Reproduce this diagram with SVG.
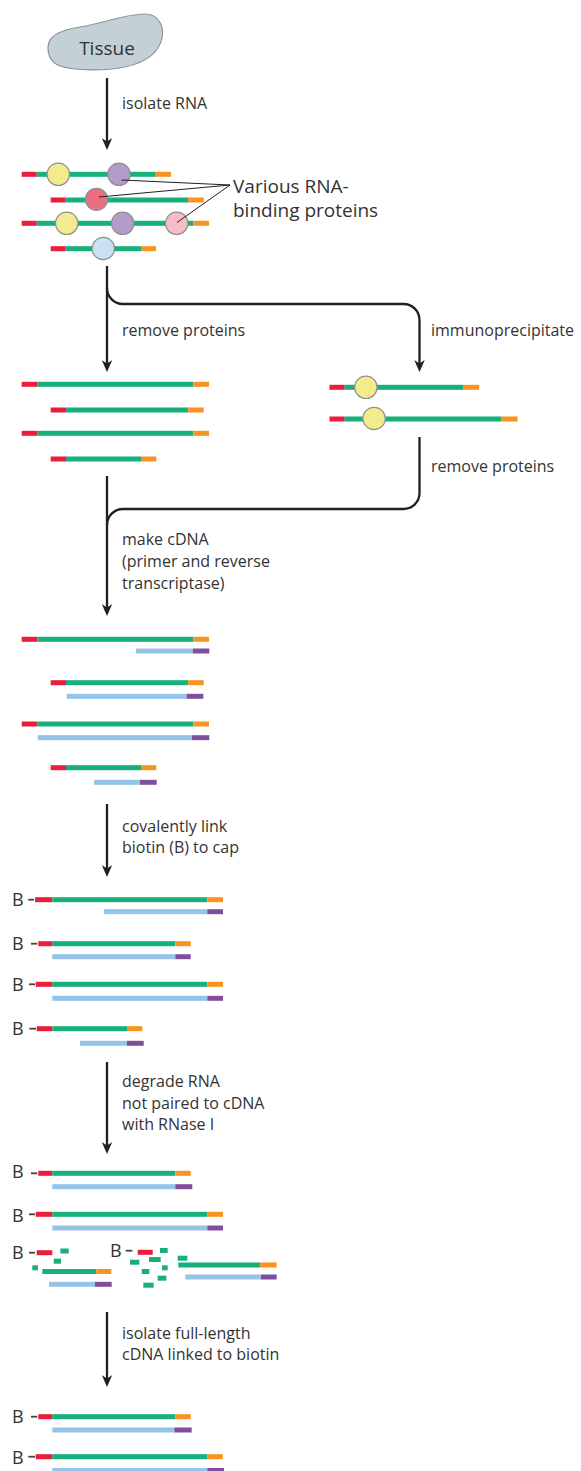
<svg xmlns="http://www.w3.org/2000/svg" width="581" height="1471" viewBox="0 0 581 1471">
<style>
text{font-family:"Open Sans","Liberation Sans",sans-serif;fill:#333;}
.lbl{font-size:16px;}
.b{font-size:18px;}
.r{fill:#ec1c3c;}
.g{fill:#17b07b;}
.o{fill:#f7931e;}
.lb{fill:#95c4e8;}
.pu{fill:#7f4f9e;}
.cy{fill:#f3ec8e;stroke:#8f8f8f;stroke-width:1.2;}
.cp{fill:#b39bcb;stroke:#8f8f8f;stroke-width:1.2;}
.cr{fill:#eb6f80;stroke:#8f8f8f;stroke-width:1.2;}
.ck{fill:#f6bdc7;stroke:#8f8f8f;stroke-width:1.2;}
.cb{fill:#c9e1f3;stroke:#8f8f8f;stroke-width:1.2;}
.arr{fill:none;stroke:#231f20;stroke-width:2.3;}
.dash{stroke:#444;stroke-width:1.8;}
.call{stroke:#231f20;stroke-width:1;fill:none;}
</style>
<defs>
<marker id="ah" viewBox="0 0 12 10.5" refX="8" refY="5.25" markerWidth="12" markerHeight="10.5" markerUnits="userSpaceOnUse" orient="auto">
<path d="M0,0 L12,5.25 L0,10.5 L3.5,5.25 Z" fill="#231f20"/>
</marker>
</defs>

<g id="tissue">
<path d="M48,47 C48,36 60,30 80,27 C105,23 125,14 145,14 C160,14 164,28 162,38 C159,52 148,62 125,67 C105,71 75,71 60,66 C52,63 48,56 48,47 Z" fill="#c3d0d6" stroke="#8a9499" stroke-width="1.2"/>
<text x="107" y="55" font-size="19" text-anchor="middle">Tissue</text>
</g>

<g id="connectors">
<path class="arr" d="M107,78 L107,146" marker-end="url(#ah)"/>
<path class="arr" d="M107,266 L107,368" marker-end="url(#ah)"/>
<path class="arr" d="M107,288 A16,16 0 0 0 123,304 L403.5,304 A16,16 0 0 1 419.5,320 L419.5,368" marker-end="url(#ah)"/>
<path class="arr" d="M419.5,437 L419.5,493 A16,16 0 0 1 403.5,509 L123,509 A16,16 0 0 0 107,525"/>
<path class="arr" d="M107,476 L107,612" marker-end="url(#ah)"/>
<path class="arr" d="M107,804 L107,873" marker-end="url(#ah)"/>
<path class="arr" d="M107,1062 L107,1150" marker-end="url(#ah)"/>
<path class="arr" d="M107,1312 L107,1383" marker-end="url(#ah)"/>
</g>

<g id="labels">
<text class="lbl" x="122" y="109">isolate RNA</text>
<text class="lbl" x="122" y="336">remove proteins</text>
<text class="lbl" x="431" y="336">immunoprecipitate</text>
<text class="lbl" x="431" y="472">remove proteins</text>
<text class="lbl" x="122" y="545">make cDNA</text>
<text class="lbl" x="122" y="567">(primer and reverse</text>
<text class="lbl" x="122" y="589">transcriptase)</text>
<text class="lbl" x="122" y="832">covalently link</text>
<text class="lbl" x="122" y="853">biotin (B) to cap</text>
<text class="lbl" x="122" y="1087">degrade RNA</text>
<text class="lbl" x="122" y="1108.5">not paired to cDNA</text>
<text class="lbl" x="122" y="1130">with RNase I</text>
<text class="lbl" x="122" y="1339">isolate full-length</text>
<text class="lbl" x="122" y="1360">cDNA linked to biotin</text>
</g>

<g id="rnp-panel">
<rect class="r" x="21.7" y="171.8" width="15" height="5"/><rect class="g" x="36.7" y="171.8" width="119" height="5"/><rect class="o" x="155.7" y="171.8" width="15.3" height="5"/>
<rect class="r" x="50.7" y="197.5" width="15" height="5"/><rect class="g" x="65.7" y="197.5" width="122.6" height="5"/><rect class="o" x="188.3" y="197.5" width="15.4" height="5"/>
<rect class="r" x="21.7" y="220.8" width="15" height="5"/><rect class="g" x="36.7" y="220.8" width="156.6" height="5"/><rect class="o" x="193.3" y="220.8" width="15.7" height="5"/>
<rect class="r" x="50.7" y="246.2" width="15" height="5"/><rect class="g" x="65.7" y="246.2" width="75.3" height="5"/><rect class="o" x="141" y="246.2" width="15" height="5"/>
<circle class="cy" cx="58.3" cy="174.3" r="11.2"/>
<circle class="cp" cx="119" cy="174.3" r="11.2"/>
<circle class="cr" cx="96.5" cy="199.3" r="11"/>
<circle class="cy" cx="66.7" cy="223.3" r="11.2"/>
<circle class="cp" cx="122.7" cy="223.3" r="11.2"/>
<circle class="ck" cx="176.7" cy="223.3" r="11.2"/>
<circle class="cb" cx="103.3" cy="248.5" r="11.2"/>
<path class="call" d="M121.5,180 L230,185 M99,197 L230,185 M177,222.5 L230,185"/>
<text x="233" y="193" font-size="19">Various RNA-</text>
<text x="233" y="217" font-size="19">binding proteins</text>
</g>

<g id="free-rna-panel">
<rect class="r" x="21.7" y="381.8" width="15.6" height="5"/><rect class="g" x="37.3" y="381.8" width="156" height="5"/><rect class="o" x="193.3" y="381.8" width="15.7" height="5"/>
<rect class="r" x="50.7" y="407.5" width="15.3" height="5"/><rect class="g" x="66" y="407.5" width="122.3" height="5"/><rect class="o" x="188.3" y="407.5" width="15.4" height="5"/>
<rect class="r" x="21.7" y="430.8" width="15.6" height="5"/><rect class="g" x="37.3" y="430.8" width="156" height="5"/><rect class="o" x="193.3" y="430.8" width="15.7" height="5"/>
<rect class="r" x="50.7" y="456.5" width="15.3" height="5"/><rect class="g" x="66" y="456.5" width="75" height="5"/><rect class="o" x="141" y="456.5" width="15.3" height="5"/>
</g>

<g id="ip-panel">
<rect class="r" x="329.5" y="384.8" width="15.2" height="5"/><rect class="g" x="344.7" y="384.8" width="118.9" height="5"/><rect class="o" x="463.6" y="384.8" width="15.6" height="5"/>
<rect class="r" x="329.5" y="416.5" width="15.2" height="5"/><rect class="g" x="344.7" y="416.5" width="156.8" height="5"/><rect class="o" x="501.5" y="416.5" width="16" height="5"/>
<circle class="cy" cx="365.9" cy="387.3" r="11.2"/>
<circle class="cy" cx="374.1" cy="418.5" r="11.2"/>
</g>

<g id="cdna-panel">
<rect class="r" x="21.7" y="636.8" width="15.6" height="5"/><rect class="g" x="37.3" y="636.8" width="156" height="5"/><rect class="o" x="193.3" y="636.8" width="15.7" height="5"/>
<rect class="lb" x="136" y="648.5" width="56.7" height="5"/><rect class="pu" x="192.7" y="648.5" width="16.6" height="5"/>
<rect class="r" x="50.7" y="680.2" width="15.3" height="5"/><rect class="g" x="66" y="680.2" width="122.3" height="5"/><rect class="o" x="188.3" y="680.2" width="15.4" height="5"/>
<rect class="lb" x="66.7" y="693.8" width="120" height="5"/><rect class="pu" x="186.7" y="693.8" width="16.6" height="5"/>
<rect class="r" x="21.7" y="721.5" width="15.6" height="5"/><rect class="g" x="37.3" y="721.5" width="156" height="5"/><rect class="o" x="193.3" y="721.5" width="15.7" height="5"/>
<rect class="lb" x="37.7" y="735.2" width="154.3" height="5"/><rect class="pu" x="192" y="735.2" width="17.3" height="5"/>
<rect class="r" x="50.7" y="765.2" width="15.3" height="5"/><rect class="g" x="66" y="765.2" width="75" height="5"/><rect class="o" x="141" y="765.2" width="15.3" height="5"/>
<rect class="lb" x="94" y="779.8" width="46" height="5"/><rect class="pu" x="140" y="779.8" width="16.7" height="5"/>
</g>

<g id="biotin-panel">
<text class="b" x="12" y="906">B</text><line class="dash" x1="28.3" y1="899.7" x2="34" y2="899.7"/>
<rect class="r" x="35" y="897.2" width="17.3" height="5"/><rect class="g" x="52.3" y="897.2" width="155" height="5"/><rect class="o" x="207.3" y="897.2" width="15.7" height="5"/>
<rect class="lb" x="104" y="909.2" width="103.3" height="5"/><rect class="pu" x="207.3" y="909.2" width="15.7" height="5"/>
<text class="b" x="12" y="950">B</text><line class="dash" x1="31" y1="943.7" x2="37.3" y2="943.7"/>
<rect class="r" x="38.3" y="941.2" width="14" height="5"/><rect class="g" x="52.3" y="941.2" width="123" height="5"/><rect class="o" x="175.3" y="941.2" width="15.4" height="5"/>
<rect class="lb" x="52.3" y="954.2" width="123" height="5"/><rect class="pu" x="175.3" y="954.2" width="15.4" height="5"/>
<text class="b" x="12" y="990.7">B</text><line class="dash" x1="29" y1="984.3" x2="35" y2="984.3"/>
<rect class="r" x="35.7" y="981.8" width="16.6" height="5"/><rect class="g" x="52.3" y="981.8" width="155" height="5"/><rect class="o" x="207.3" y="981.8" width="15.7" height="5"/>
<rect class="lb" x="52.3" y="995.8" width="155" height="5"/><rect class="pu" x="207.3" y="995.8" width="15.7" height="5"/>
<text class="b" x="12" y="1035">B</text><line class="dash" x1="29.3" y1="1028.7" x2="36" y2="1028.7"/>
<rect class="r" x="36.7" y="1026.2" width="15.6" height="5"/><rect class="g" x="52.3" y="1026.2" width="74.7" height="5"/><rect class="o" x="127" y="1026.2" width="15.3" height="5"/>
<rect class="lb" x="80" y="1040.8" width="47" height="5"/><rect class="pu" x="127" y="1040.8" width="16.7" height="5"/>
</g>

<g id="rnase-panel">
<text class="b" x="12" y="1178.3">B</text><line class="dash" x1="31" y1="1173.3" x2="37.3" y2="1173.3"/>
<rect class="r" x="38.3" y="1170.8" width="14" height="5"/><rect class="g" x="52.3" y="1170.8" width="123" height="5"/><rect class="o" x="175.3" y="1170.8" width="15.4" height="5"/>
<rect class="lb" x="52.3" y="1184.2" width="123" height="5"/><rect class="pu" x="175.3" y="1184.2" width="17" height="5"/>
<text class="b" x="12" y="1221.7">B</text><line class="dash" x1="29" y1="1214.3" x2="35" y2="1214.3"/>
<rect class="r" x="35.7" y="1211.8" width="16.6" height="5"/><rect class="g" x="52.3" y="1211.8" width="155" height="5"/><rect class="o" x="207.3" y="1211.8" width="15.7" height="5"/>
<rect class="lb" x="52.3" y="1225.5" width="155" height="5"/><rect class="pu" x="207.3" y="1225.5" width="15.7" height="5"/>
<text class="b" x="12" y="1259">B</text><line class="dash" x1="29" y1="1252.7" x2="35" y2="1252.7"/>
<rect class="r" x="36.7" y="1250.2" width="15.6" height="5"/>
<rect class="g" x="60.3" y="1248.5" width="8.4" height="5"/>
<rect class="g" x="53.7" y="1258.7" width="7.3" height="5"/>
<rect class="g" x="32.3" y="1265.3" width="5.6" height="5"/>
<rect class="g" x="42.3" y="1269" width="54" height="5"/><rect class="o" x="96.3" y="1269" width="15" height="5"/>
<rect class="lb" x="49" y="1281.8" width="46" height="5"/><rect class="pu" x="95" y="1281.8" width="16.7" height="5"/>
<text class="b" x="110" y="1256.7">B</text><line class="dash" x1="125.7" y1="1250.7" x2="132.3" y2="1250.7"/>
<rect class="r" x="137.7" y="1249.8" width="15" height="5"/>
<rect class="g" x="160" y="1248" width="7.7" height="5"/>
<rect class="g" x="130" y="1259.7" width="9.3" height="5"/>
<rect class="g" x="149" y="1257" width="11.7" height="5"/>
<rect class="g" x="177.7" y="1255.7" width="9.6" height="5"/>
<rect class="g" x="162" y="1265.3" width="5.7" height="5"/>
<rect class="g" x="141.7" y="1269" width="7.6" height="5"/>
<rect class="g" x="157.7" y="1275.7" width="8.6" height="5"/>
<rect class="g" x="143.3" y="1282.7" width="10.4" height="5"/>
<rect class="g" x="178.3" y="1262.5" width="82" height="5"/><rect class="o" x="260.3" y="1262.5" width="16.4" height="5"/>
<rect class="lb" x="185.3" y="1274.5" width="75.7" height="5"/><rect class="pu" x="261" y="1274.5" width="15.7" height="5"/>
</g>

<g id="fulllength-panel">
<text class="b" x="12" y="1422.7">B</text><line class="dash" x1="31" y1="1416.7" x2="37.3" y2="1416.7"/>
<rect class="r" x="38.3" y="1414.2" width="14" height="5"/><rect class="g" x="52.3" y="1414.2" width="123" height="5"/><rect class="o" x="175.3" y="1414.2" width="15.4" height="5"/>
<rect class="lb" x="52.3" y="1427.5" width="122" height="5"/><rect class="pu" x="174.3" y="1427.5" width="17.4" height="5"/>
<text class="b" x="12" y="1464">B</text><line class="dash" x1="28.3" y1="1456.7" x2="35" y2="1456.7"/>
<rect class="r" x="35.7" y="1454.2" width="16.6" height="5"/><rect class="g" x="52.3" y="1454.2" width="155" height="5"/><rect class="o" x="207.3" y="1454.2" width="15.4" height="5"/>
<rect class="lb" x="52.3" y="1468" width="155" height="5"/><rect class="pu" x="207.3" y="1468" width="16.7" height="5"/>
</g>
</svg>
